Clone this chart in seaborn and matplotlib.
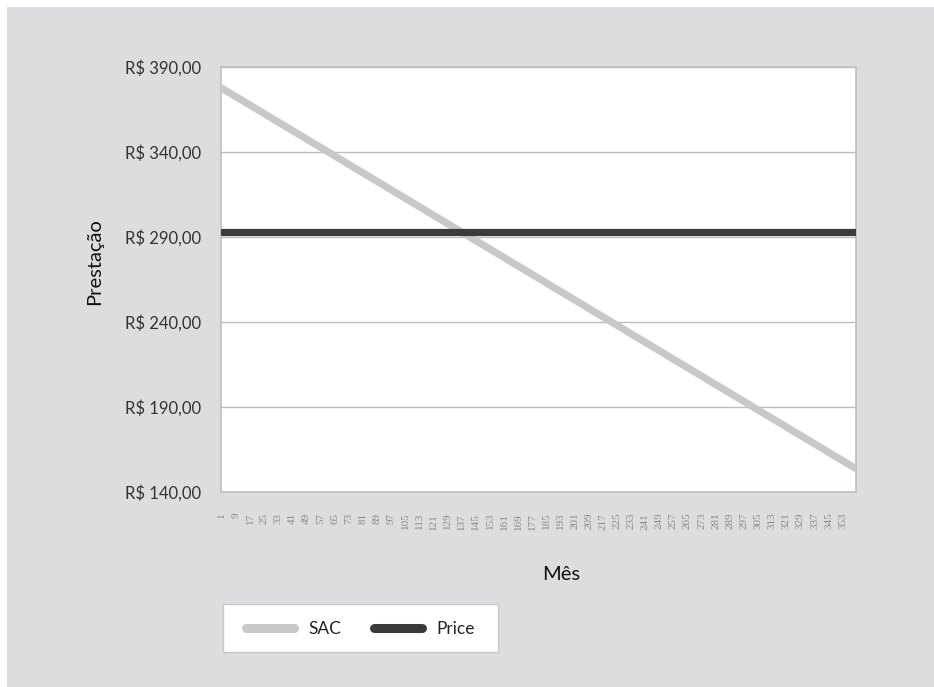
import matplotlib
matplotlib.use("Agg")
import matplotlib.pyplot as plt
import matplotlib.patches as mpatches
from matplotlib.lines import Line2D
import matplotlib.ticker as mticker
import seaborn as sns
import pandas as pd

# Monthly payment (prestação) at the first and last month of a 360-month loan
months = [1, 360]
sac_values = [377.5, 154.0]
price_values = [293.0, 293.0]
series_names = ["SAC", "Price"]
y_ticks = [140, 190, 240, 290, 340, 390]
x_tick_months = list(range(1, 360, 8))

df = pd.concat([
    pd.DataFrame({"Mês": months, "Prestação": sac_values, "Sistema": "SAC"}),
    pd.DataFrame({"Mês": months, "Prestação": price_values, "Sistema": "Price"}),
], ignore_index=True)

sns.set_style("white")
plt.rcParams["font.family"] = ["Lato", "DejaVu Sans"]

W, H = 934, 687
fig = plt.figure(figsize=(W / 100, H / 100), dpi=100)
fig.patch.set_facecolor("white")

# gray chart background panel
fig.patches.append(mpatches.Rectangle((7 / W, 0), 1 - 7 / W, 1 - 7 / H,
                                      transform=fig.transFigure,
                                      facecolor="#dcdddf", edgecolor="none", zorder=-10))
# white legend panel
fig.patches.append(mpatches.Rectangle((223 / W, 1 - 652 / H), (498 - 223) / W, 48 / H,
                                      transform=fig.transFigure,
                                      facecolor="white", edgecolor="#c8c8c8",
                                      linewidth=1.0, zorder=-5))

ax = fig.add_axes([221 / W, 1 - 492 / H, (856 - 221) / W, (492 - 67) / H])
ax.set_facecolor("white")

palette = {"SAC": "#c8c8c8", "Price": "#3b3b3b"}
sns.lineplot(data=df, x="Mês", y="Prestação", hue="Sistema", palette=palette,
             linewidth=5.2, ax=ax, legend=False, solid_capstyle="round", zorder=3)

ax.set_xlim(0.5, 360.5)
ax.set_ylim(140, 390)

ax.set_yticks(y_ticks)
ax.set_yticklabels([f"R$ {v},00" for v in y_ticks], fontsize=12, color="#333333")
ax.yaxis.grid(True, color="#bdbdbd", linewidth=1.0)
ax.set_axisbelow(True)

ax.set_xticks(x_tick_months)
ax.set_xticklabels([str(m) for m in x_tick_months], rotation=90, fontsize=8,
                   color="#8a8a8a", family="Liberation Serif")
ax.xaxis.set_minor_locator(mticker.FixedLocator(list(range(1, 361))))
ax.tick_params(axis="x", which="major", length=3, color="#a0a0a0", pad=12)
ax.tick_params(axis="x", which="minor", length=2, color="#b0b0b0")
ax.tick_params(axis="y", length=0, pad=14)

for side in ["top", "right", "left", "bottom"]:
    ax.spines[side].set_color("#bfbfbf")
    ax.spines[side].set_linewidth(1.2)

ax.set_xlabel("Mês", fontsize=14.5, color="#111111")
ax.set_ylabel("Prestação", fontsize=14.5, color="#111111")
ax.xaxis.set_label_coords(0.535, -0.175)
ax.yaxis.set_label_coords(-0.186, 0.541)

# legend entries inside the white panel
leg = ax.legend(handles=[Line2D([0], [0], color=palette[n], lw=6.5, solid_capstyle="round")
                         for n in series_names],
                labels=series_names, loc="center left",
                bbox_to_anchor=(246 / W, 1 - 629 / H), bbox_transform=fig.transFigure,
                ncol=2, frameon=False, fontsize=12.5, handlelength=2.75,
                columnspacing=1.9, handletextpad=0.85, borderpad=0,
                borderaxespad=0)
for t in leg.get_texts():
    t.set_color("#222222")

fig.savefig("out.png", dpi=100, facecolor=fig.get_facecolor())
